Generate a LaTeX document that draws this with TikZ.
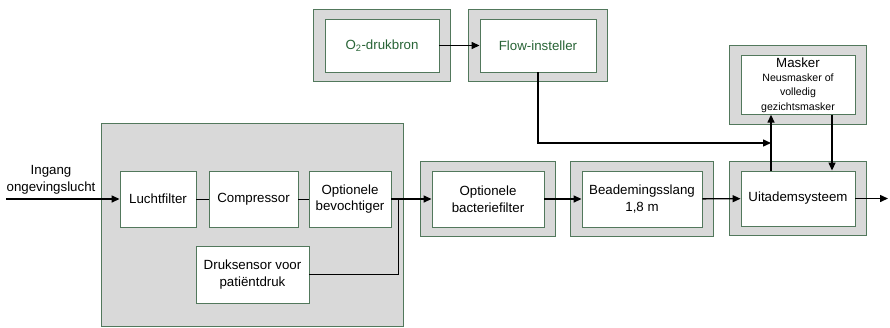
\documentclass[tikz,border=0pt]{standalone}
\usepackage{fontspec}
\setmainfont{Liberation Sans}
\usetikzlibrary{positioning, calc, arrows.meta, fit, backgrounds}

\definecolor{framegreen}{RGB}{82,120,92}
\definecolor{textgreen}{RGB}{40,100,54}
\definecolor{panelgrey}{RGB}{217,217,217}
\newcommand{\masknote}{\fontsize{10.6}{12.2}\selectfont}

\begin{document}
\begin{tikzpicture}[x=1pt, y=-1pt, node font=\fontsize{13.3}{16.5}\selectfont,
    block/.style={draw=framegreen, fill=white, line width=0.9pt, align=center, inner sep=2pt},
    frame/.style={draw=framegreen, fill=panelgrey, line width=1pt, inner xsep=11pt, inner ysep=9.5pt},
    flow/.style={line width=1.4pt, -{Triangle[length=8pt,width=7pt]}},
    link/.style={line width=0.8pt}]
  \useasboundingbox (0,0) rectangle (890,327);

  % ventilator unit
  \node[draw=framegreen, fill=panelgrey, line width=0.9pt, minimum width=302, minimum height=203] (unit) at (252,224.5) {};
  \node[block, minimum width=76, minimum height=56] (lucht) at (158,199) {Luchtfilter};
  \node[block, minimum width=89, minimum height=56] (comp) at (253.5,199) {Compressor};
  \node[block, minimum width=82, minimum height=56] (bevocht) at (350,199) {Optionele\\bevochtiger};
  \node[block, minimum width=113, minimum height=57] (druk) at (252.5,274.5) {Druksensor voor\\patiëntdruk};

  % circuit to the patient
  \node[block, minimum width=112, minimum height=56] (bact) at (488,199) {Optionele\\bacteriefilter};
  \node[block, minimum width=120, minimum height=56] (slang) at (642,199) {Beademingsslang\\1,8 m};
  \node[block, minimum width=114, minimum height=55] (uit) at (798,198.5) {Uitademsysteem};
  \node[block, minimum width=114, minimum height=56, node font=\masknote] (masker) at (798,85)
    {{\fontsize{13.3}{16.5}\selectfont Masker}\\[2pt]Neusmasker of\\[2pt]volledig\\[2pt]gezichtsmasker};

  % oxygen supply
  \node[block, text=textgreen, minimum width=114, minimum height=53] (o2) at (382,45.5) {O\textsubscript{2}-drukbron};
  \node[block, text=textgreen, minimum width=116, minimum height=53] (flow) at (538,45.5) {Flow-insteller};

  \begin{scope}[on background layer]
    \foreach \n in {bact, slang, uit, masker, o2, flow}
      \node[frame, fit=(\n)] {};
  \end{scope}

  \coordinate (in) at (6,199);
  \coordinate (tap) at (398,199);
  \coordinate (join) at (771,143);
  \coordinate (out) at (888,198.5);

  \node[align=center] (ingang) at (51,180) {Ingang\\ongevingslucht};

  \draw[flow] (in) -- (lucht);
  \draw[link] (lucht) -- (comp);
  \draw[link] (comp) -- (bevocht);
  \draw[link] (druk.east) -| (tap);
  \draw[flow] (bevocht) -- (bact);
  \draw[flow] (bact) -- (slang);
  \draw[flow] (slang) -- (uit);
  \draw[flow] (uit) -- (out);
  \draw[flow] (o2) -- (flow);
  \draw[flow] (flow.south) |- (join);
  \draw[flow] ([xshift=-27pt]uit.north) -- ([xshift=-27pt]masker.south);
  \draw[flow] ([xshift=34pt]masker.south) -- ([xshift=34pt]uit.north);
\end{tikzpicture}
\end{document}
